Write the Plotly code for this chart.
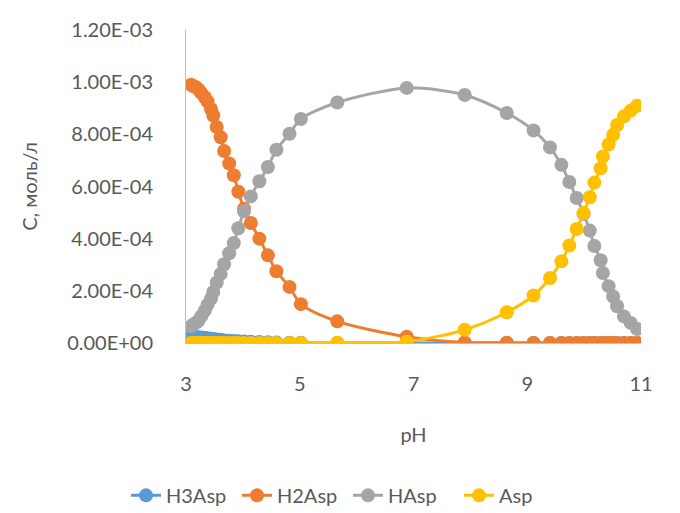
import plotly.graph_objects as go

# pH values (shared by every series)
ph = [3.09, 3.13, 3.18, 3.22, 3.27, 3.33, 3.38, 3.44, 3.48, 3.54, 3.61, 3.67, 3.76, 3.84, 3.92,
      4.02, 4.14, 4.29, 4.44, 4.59, 4.82, 5.02, 5.66, 6.88, 7.90, 8.64, 9.11, 9.40, 9.60, 9.74,
      9.87, 9.99, 10.10, 10.18, 10.29, 10.33, 10.43, 10.51, 10.58, 10.70, 10.82, 10.93]

# concentrations, mol/L
h3asp = [2.5e-5, 2.4e-5, 2.3e-5, 2.2e-5, 2.1e-5, 1.9e-5, 1.8e-5, 1.6e-5, 1.5e-5, 1.3e-5, 1.2e-5,
         1.0e-5, 9e-6, 8e-6, 7e-6, 6e-6, 5e-6, 4e-6, 3e-6, 2e-6, 1e-6, 1e-6, 0, 0, 0, 0, 0, 0, 0,
         0, 0, 0, 0, 0, 0, 0, 0, 0, 0, 0, 0, 0]
h2asp = [9.90e-4, 9.85e-4, 9.80e-4, 9.72e-4, 9.58e-4, 9.42e-4, 9.26e-4, 8.97e-4, 8.72e-4,
         8.28e-4, 7.89e-4, 7.36e-4, 6.88e-4, 6.43e-4, 5.80e-4, 5.15e-4, 4.60e-4, 4.00e-4,
         3.36e-4, 2.75e-4, 2.15e-4, 1.49e-4, 8.3e-5, 2.4e-5, 2e-6, 1e-6, 0, 0, 0, 0,
         0, 0, 0, 0, 0, 0, 0, 0, 0, 0, 0, 0]
hasp = [6.4e-5, 7.1e-5, 7.8e-5, 8.5e-5, 1.03e-4, 1.24e-4, 1.47e-4, 1.70e-4, 1.96e-4, 2.32e-4,
        2.65e-4, 3.02e-4, 3.44e-4, 3.83e-4, 4.40e-4, 5.05e-4, 5.62e-4, 6.20e-4, 6.75e-4,
        7.41e-4, 8.02e-4, 8.59e-4, 9.22e-4, 9.78e-4, 9.51e-4, 8.82e-4, 8.15e-4, 7.50e-4,
        6.83e-4, 6.17e-4, 5.56e-4, 4.95e-4, 4.31e-4, 3.72e-4, 3.17e-4, 2.68e-4, 2.18e-4,
        1.78e-4, 1.41e-4, 1.02e-4, 7.7e-5, 5.4e-5]
asp = [0, 0, 0, 0, 0, 0, 0, 0, 0, 0, 0, 0, 0, 0, 0, 0, 0, 0, 0, 0, 0, 0, 1e-6, 5e-6,
       5.1e-5, 1.18e-4, 1.82e-4, 2.49e-4, 3.13e-4, 3.74e-4, 4.37e-4, 4.98e-4, 5.59e-4,
       6.15e-4, 6.70e-4, 7.15e-4, 7.61e-4, 7.98e-4, 8.36e-4, 8.69e-4, 8.91e-4, 9.10e-4]

series_names = ["H3Asp", "H2Asp", "HAsp", "Asp"]
series_colors = ["#5B9BD5", "#ED7D31", "#A5A5A5", "#FFC000"]
y_tickvals = [0, 2e-4, 4e-4, 6e-4, 8e-4, 1e-3, 1.2e-3]
y_ticktext = ["0.00E+00", "2.00E-04", "4.00E-04", "6.00E-04", "8.00E-04", "1.00E-03", "1.20E-03"]
x_tickvals = [3, 5, 7, 9, 11]

FONT = "Lato, 'Open Sans', sans-serif"
TXT = "#595959"
FS = 20

fig = go.Figure()
for name, col, vals in zip(series_names, series_colors, [h3asp, h2asp, hasp, asp]):
    fig.add_trace(go.Scatter(
        x=ph, y=vals, name=name, mode="lines+markers",
        line=dict(color=col, width=3, shape="spline", smoothing=0.8),
        marker=dict(color=col, size=14),
    ))

fig.update_layout(
    width=680, height=513,
    margin=dict(l=178, r=47, t=22, b=178, autoexpand=False),
    plot_bgcolor="white", paper_bgcolor="white",
    font=dict(family=FONT, size=FS, color=TXT),
    showlegend=True,
    legend=dict(orientation="h", xref="container", yref="container",
                x=0.5, xanchor="center", y=0.05, yanchor="middle",
                font=dict(size=FS, color=TXT), entrywidth=66,
                traceorder="normal"),
    xaxis=dict(range=[3, 11], tickvals=x_tickvals, showgrid=False, zeroline=False,
               showline=True, linecolor="#BFBFBF", linewidth=1, ticks="",
               ticklabelstandoff=23,
               title=dict(text="pH", font=dict(size=FS, color=TXT), standoff=33)),
    yaxis=dict(range=[0, 1.2e-3], tickvals=y_tickvals, ticktext=y_ticktext,
               showgrid=False, zeroline=False, showline=True, linecolor="#BFBFBF",
               linewidth=1, ticks="", ticklabelstandoff=28,
               title=dict(text="C, моль/л", font=dict(size=FS, color=TXT), standoff=24)),
)

fig.write_html("out.html")
